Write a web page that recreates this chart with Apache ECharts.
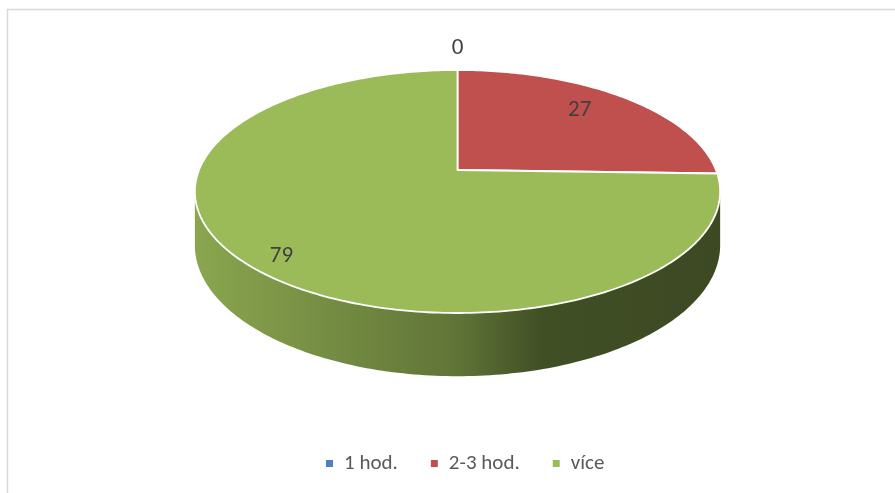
<!DOCTYPE html>
<html>
<head>
<meta charset="utf-8">
<title>3D pie</title>
<script src="https://cdn.jsdelivr.net/npm/echarts@6/dist/echarts.min.js"></script>
<style>
  html, body { margin: 0; padding: 0; background: #fff; }
  #main { width: 895px; height: 493px; }
</style>
</head>
<body>
<div id="main"></div>
<script>
// data
var categories = ['1 hod.', '2-3 hod.', 'více'];
var values = [0, 27, 79];
var colors = ['#4f81bd', '#c0504d', '#9bbb59'];

var FONT = 'Calibri, Carlito, Lato, sans-serif';

// 3D pie geometry (screen px)
var geo = { cx: 457.5, cy: 170, rx: 258.5, ry: 117.7, k: 0.177, h: 52 };
var total = values.reduce(function (a, b) { return a + b; }, 0);

// theta: degrees clockwise from back (top), r: radius ratio, dz: 0 top, 1 bottom
function proj(theta, r, dz) {
  var t = theta * Math.PI / 180;
  var u = r * Math.sin(t), v = -r * Math.cos(t);
  var s = 1 / (1 - geo.k * v);
  return [geo.cx + geo.rx * u * s, geo.cy + geo.ry * v * s + dz * geo.h * s];
}

function arc(a0, a1, dz) {
  var pts = [];
  var n = Math.max(1, Math.ceil(Math.abs(a1 - a0)));
  for (var i = 0; i <= n; i++) {
    pts.push(proj(a0 + (a1 - a0) * i / n, 1, dz));
  }
  return pts;
}

function shade(hex, f) {
  var c = parseInt(hex.slice(1), 16);
  var r = Math.round(((c >> 16) & 255) * f);
  var g = Math.round(((c >> 8) & 255) * f);
  var b = Math.round((c & 255) * f);
  return 'rgb(' + r + ',' + g + ',' + b + ')';
}

// visible front part of the side wall
var sideFrom = Math.acos(-geo.k) * 180 / Math.PI;
var sideTo = 360 - sideFrom;

function renderSlice(idx) {
  return function (params, api) {
    var before = 0;
    for (var i = 0; i < idx; i++) before += values[i];
    var val = api.value(0);
    var a0 = before / total * 360;
    var a1 = (before + val) / total * 360;
    var color = colors[idx];
    var children = [];

    // side wall
    var s0 = Math.max(a0, sideFrom), s1 = Math.min(a1, sideTo);
    if (s1 > s0) {
      var top = arc(s0, s1, 0);
      var bottom = arc(s1, s0, 1);
      var left = proj(sideTo, 1, 0)[0], right = proj(sideFrom, 1, 0)[0];
      var grad = new echarts.graphic.LinearGradient(left, 0, right, 0, [
        { offset: 0, color: shade(color, 0.89) },
        { offset: 0.5, color: shade(color, 0.62) },
        { offset: 0.66, color: shade(color, 0.42) },
        { offset: 1, color: shade(color, 0.39) }
      ], true);
      children.push({
        type: 'polygon',
        z2: 1,
        shape: { points: top.concat(bottom) },
        style: { fill: grad, stroke: null }
      });
    }

    // top face
    var face = [proj(0, 0, 0)].concat(arc(a0, a1, 0));
    children.push({
      type: 'polygon',
      z2: 10,
      shape: { points: face },
      style: { fill: color, stroke: '#ffffff', lineWidth: 1.8, lineJoin: 'round' }
    });

    // data label (best fit: inside, zero values outside)
    var frac = val / total;
    var mid = (a0 + a1) / 2 - (val === 0 ? 0 : 3);
    var p = proj(mid, val === 0 ? 1.27 : 0.7 + 0.25 * frac, 0);
    children.push({
      type: 'text',
      z2: 20,
      x: p[0],
      y: p[1],
      style: {
        text: String(val),
        fill: '#404040',
        font: '23px ' + FONT,
        align: 'center',
        verticalAlign: 'middle'
      }
    });

    return { type: 'group', children: children };
  };
}

var series = categories.map(function (name, i) {
  return {
    type: 'custom',
    name: name,
    coordinateSystem: 'none',
    itemStyle: { color: colors[i] },
    data: [[values[i]]],
    renderItem: renderSlice(i),
    silent: true
  };
});

var chart = echarts.init(document.getElementById('main'));
chart.setOption({
  animation: false,
  graphic: [{
    type: 'rect',
    silent: true,
    shape: { x: 7.5, y: 9.5, width: 900, height: 500 },
    style: { fill: 'none', stroke: '#d9d9d9', lineWidth: 1.5 }
  }],
  legend: {
    data: categories,
    bottom: 14,
    left: 321,
    icon: 'rect',
    itemWidth: 7,
    itemHeight: 7,
    itemGap: 33,
    textStyle: { color: '#595959', fontSize: 21, fontFamily: FONT, padding: [0, 0, 0, 6] }
  },
  series: series
});
</script>
</body>
</html>
